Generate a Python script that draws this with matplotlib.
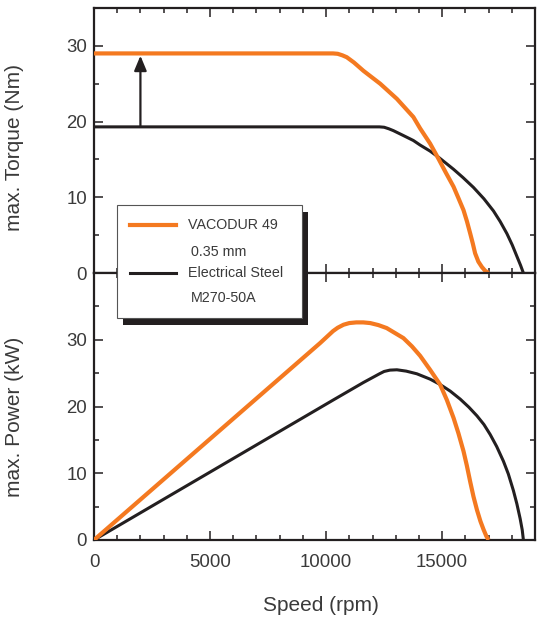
import matplotlib
matplotlib.use("Agg")
import matplotlib.pyplot as plt
from matplotlib.patches import Rectangle, FancyArrowPatch
from matplotlib.lines import Line2D
from matplotlib.ticker import MultipleLocator, FixedLocator

plt.rcParams['font.family'] = ['Liberation Sans', 'DejaVu Sans']

# ---------------- data ----------------
speed_torque_vac = [0, 10000, 10300, 10500, 10700, 10890, 11200, 11610, 12330, 13050,
                    13760, 14050, 14480, 14840, 15150, 15490, 15700, 15920, 16070,
                    16210, 16320, 16420, 16560, 16710, 16850, 17000]
torque_vac = [29.0, 29.0, 29.0, 28.95, 28.75, 28.5, 27.8, 26.7, 25.0, 23.0,
              20.6, 19.1, 17.1, 15.1, 13.3, 11.4, 9.9, 8.3, 6.8,
              5.2, 3.9, 2.6, 1.5, 0.8, 0.3, 0.0]

speed_torque_steel = [0, 12000, 12300, 12500, 12700, 12900, 13300, 13760, 14050, 14480,
                      14840, 15490, 15900, 16350, 16800, 17210, 17500, 17790, 18020,
                      18220, 18380, 18500]
torque_steel = [19.3, 19.3, 19.3, 19.25, 19.05, 18.8, 18.2, 17.5, 16.9, 16.1,
                15.3, 13.7, 12.6, 11.3, 9.8, 8.2, 6.8, 5.2, 3.7,
                2.2, 1.0, 0.0]

speed_power_vac = [0, 9740, 10300, 10500, 10750, 11000, 11300, 11600, 11900, 12250,
                   12610, 13330, 13700, 14050, 14480, 14910, 15200, 15490, 15700,
                   15920, 16060, 16210, 16350, 16500, 16650, 16780, 16900, 17000]
power_vac = [0, 29.5, 31.3, 31.8, 32.25, 32.5, 32.6, 32.6, 32.5, 32.2,
             31.75, 30.25, 29.0, 27.6, 25.5, 23.3, 21.0, 18.3, 16.0,
             13.3, 11.2, 8.7, 6.5, 4.5, 2.8, 1.6, 0.6, 0.0]

speed_power_steel = [0, 10320, 11610, 12300, 12500, 12750, 13050, 13450, 13910, 14480,
                     14910, 15350, 15780, 16150, 16500, 16800, 17070, 17350, 17640,
                     17850, 18070, 18220, 18360, 18450, 18500]
power_steel = [0, 21.0, 23.6, 24.9, 25.25, 25.45, 25.5, 25.3, 24.9, 24.1,
               23.3, 22.3, 21.1, 19.9, 18.6, 17.3, 15.8, 14.0, 11.8,
               9.9, 7.4, 5.4, 3.2, 1.5, 0.0]

legend_labels = [("VACODUR 49", "0.35 mm"), ("Electrical Steel", "M270-50A")]
xticks = [0, 5000, 10000, 15000]
yticks = [0, 10, 20, 30]

ORANGE = "#f47920"
BLACK = "#231f20"
TXT = "#3a3a3a"

W, H = 540, 623
fig = plt.figure(figsize=(W / 100, H / 100), dpi=100)


def fx(px):
    return px / W


def fy(py):
    return 1 - py / H


L, R = 94, 535
ax1 = fig.add_axes([fx(L), fy(273), (R - L) / W, (273 - 8) / H])
ax2 = fig.add_axes([fx(L), fy(540), (R - L) / W, (540 - 273) / H])

for ax in (ax1, ax2):
    ax.set_xlim(0, 19000)
    ax.xaxis.set_major_locator(FixedLocator(xticks))
    ax.xaxis.set_minor_locator(MultipleLocator(1000))
    ax.yaxis.set_major_locator(FixedLocator(yticks))
    ax.yaxis.set_minor_locator(MultipleLocator(5))
    ax.tick_params(which='both', direction='in', top=True, right=True,
                   color=BLACK, width=1.1, labelcolor=TXT, labelsize=13.4)
    ax.tick_params(which='major', length=6.5)
    ax.tick_params(which='minor', length=3.8)
    ax.tick_params(axis='x', pad=10)
    ax.tick_params(axis='y', pad=5)
    for s in ax.spines.values():
        s.set_linewidth(1.6)
        s.set_color(BLACK)

ax1.set_ylim(0, 35)
ax2.set_ylim(0, 40)
ax1.tick_params(axis='x', labelbottom=False)

ax1.plot(speed_torque_steel, torque_steel, color=BLACK, lw=2.2, solid_capstyle='butt',
         solid_joinstyle='round', zorder=3)
ax1.plot(speed_torque_vac, torque_vac, color=ORANGE, lw=3.0, solid_capstyle='butt',
         solid_joinstyle='round', zorder=3)
ax2.plot(speed_power_steel, power_steel, color=BLACK, lw=2.2, solid_capstyle='butt',
         solid_joinstyle='round', zorder=3)
ax2.plot(speed_power_vac, power_vac, color=ORANGE, lw=3.0, solid_capstyle='butt',
         solid_joinstyle='round', zorder=3)

arrow = FancyArrowPatch((2000, torque_steel[0]), (2000, 28.7),
                        arrowstyle='-|>,head_length=0.6,head_width=0.25',
                        mutation_scale=15, color=BLACK, lw=1.6,
                        shrinkA=0, shrinkB=0, zorder=4)
ax1.add_patch(arrow)

ax1.set_ylabel("max. Torque (Nm)", fontsize=15, color=TXT)
ax2.set_ylabel("max. Power (kW)", fontsize=15, color=TXT)
ax2.set_xlabel("Speed (rpm)", fontsize=15, color=TXT)
ax1.yaxis.set_label_coords((24 - L) / (R - L), (273 - 148) / 265)
ax2.yaxis.set_label_coords((24 - L) / (R - L), (540 - 417) / 267)
ax2.xaxis.set_label_coords((321 - L) / (R - L), (540 - 596) / 267)

# ---------------- legend (figure level) ----------------
shadow = Rectangle((fx(123), fy(325)), fx(308) - fx(123), fy(212) - fy(325),
                   transform=fig.transFigure, facecolor=BLACK, edgecolor='none', zorder=5)
box = Rectangle((fx(117), fy(318)), fx(302) - fx(117), fy(205) - fy(318),
                transform=fig.transFigure, facecolor='white', edgecolor='#555555',
                lw=0.8, zorder=6)
fig.patches.extend([shadow, box])

fig.lines.append(Line2D([fx(130), fx(176)], [fy(225), fy(225)], transform=fig.transFigure,
                        color=ORANGE, lw=3.0, zorder=7))
fig.lines.append(Line2D([fx(130), fx(176)], [fy(273), fy(273)], transform=fig.transFigure,
                        color=BLACK, lw=2.2, zorder=7))

for (l1, l2), y1, y2 in zip(legend_labels, (225, 273), (252, 298)):
    fig.text(fx(188), fy(y1), l1, fontsize=10.3, color=TXT, va='center', ha='left', zorder=8)
    fig.text(fx(191), fy(y2), l2, fontsize=10.3, color=TXT, va='center', ha='left', zorder=8)

fig.savefig("out.png", dpi=100)
